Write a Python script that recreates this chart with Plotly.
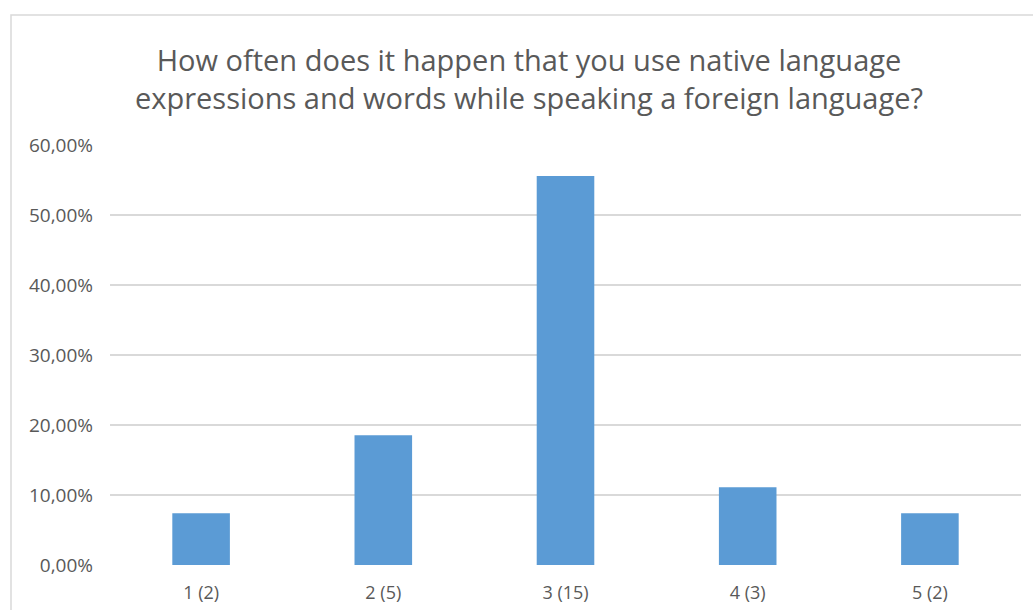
import plotly.graph_objects as go

categories = ["1 (2)", "2 (5)", "3 (15)", "4 (3)", "5 (2)"]
shares = [0.0741, 0.1852, 0.5556, 0.1111, 0.0741]
y_ticks = [0, 0.1, 0.2, 0.3, 0.4, 0.5, 0.6]

title_text = ("How often does it happen that you use native language<br>"
              "expressions and words while speaking a foreign language?")

W, H = 1033, 610
L, R, T, B = 110, 12, 145, 45
pw, ph = W - L - R, H - T - B

fig = go.Figure(go.Bar(
    x=categories, y=shares,
    marker=dict(color="#5b9bd5", line=dict(width=0)),
))

fig.update_layout(
    width=W, height=H,
    margin=dict(l=L, r=R, t=T, b=B, autoexpand=False),
    paper_bgcolor="white", plot_bgcolor="white",
    separators=", ",
    bargap=0.684,
    showlegend=False,
    font=dict(family="Open Sans", color="#595959"),
    title=dict(
        text=title_text,
        x=529 / W, xref="container", xanchor="center",
        y=1 - 71 / H, yref="container", yanchor="middle",
        font=dict(size=29, color="#595959", family="Open Sans"),
    ),
    xaxis=dict(
        showgrid=False, showline=False, zeroline=False, ticks="",
        automargin=False, ticklabelstandoff=15,
        tickfont=dict(size=18, color="#595959"),
    ),
    yaxis=dict(
        range=[0, 0.6], tickvals=y_ticks, tickformat=".2%",
        showgrid=True, gridcolor="#d9d9d9", gridwidth=1.5,
        zeroline=False, showline=False, ticks="",
        automargin=False, ticklabelstandoff=16,
        tickfont=dict(size=19, color="#595959"),
    ),
    shapes=[dict(
        type="rect", xref="paper", yref="paper",
        x0=(11 - L) / pw, x1=1.2,
        y0=-0.3, y1=(H - B - 15) / ph,
        line=dict(color="#d9d9d9", width=1.5),
        fillcolor="rgba(0,0,0,0)", layer="below",
    )],
)

fig.write_html("out.html")
